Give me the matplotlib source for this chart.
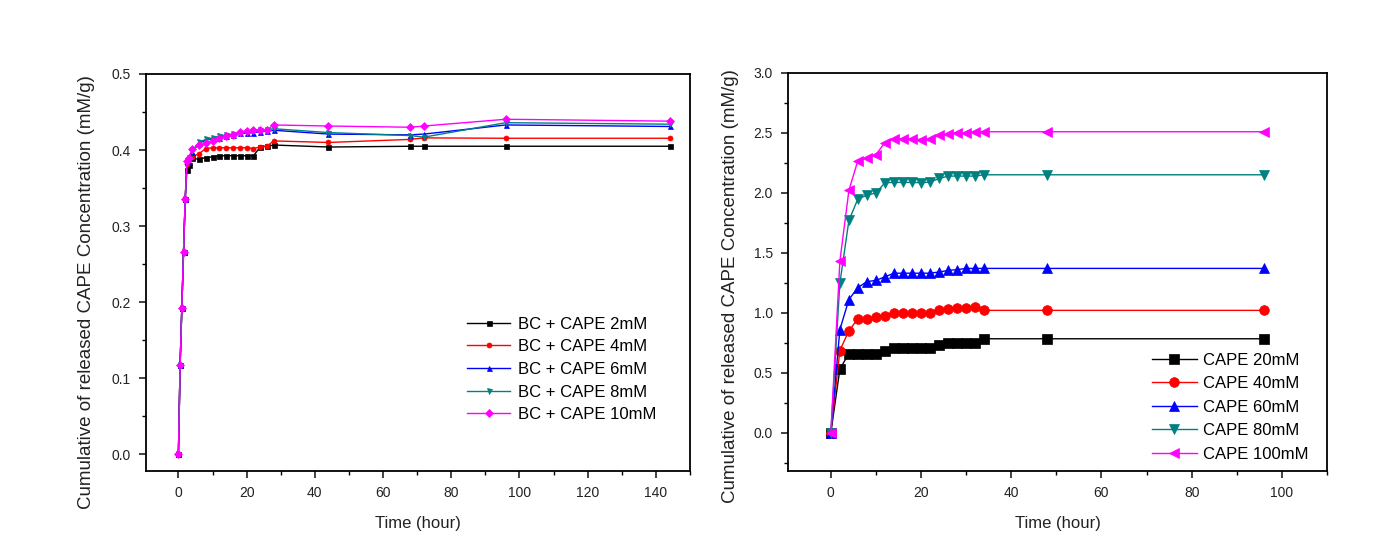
import matplotlib
matplotlib.use("Agg")
import matplotlib.pyplot as plt
from matplotlib.ticker import MultipleLocator, FormatStrFormatter

plt.rcParams['font.family'] = ['Liberation Sans', 'DejaVu Sans']

# ---------------- Left panel data ----------------
t_left = [0, 0.5, 1, 1.5, 2, 2.5, 3, 4, 6, 8, 10, 12, 14, 16, 18, 20, 22, 24, 26, 28, 44, 68, 72, 96, 144]
bc_2mM = [0, 0.117, 0.192, 0.266, 0.336, 0.374, 0.381, 0.389, 0.388, 0.390, 0.391, 0.3925, 0.3925, 0.3925,
          0.3925, 0.3925, 0.3925, 0.404, 0.405, 0.4066, 0.404, 0.405, 0.405, 0.405, 0.405]
bc_4mM = [0, 0.117, 0.192, 0.266, 0.336, 0.382, 0.387, 0.391, 0.395, 0.402, 0.403, 0.403, 0.403, 0.403,
          0.403, 0.403, 0.402, 0.404, 0.4055, 0.412, 0.410, 0.414, 0.416, 0.4155, 0.4155]
bc_6mM = [0, 0.117, 0.192, 0.266, 0.336, 0.385, 0.389, 0.397, 0.409, 0.413, 0.415, 0.416, 0.419, 0.420,
          0.422, 0.422, 0.423, 0.424, 0.425, 0.426, 0.421, 0.420, 0.421, 0.433, 0.431]
bc_8mM = [0, 0.117, 0.192, 0.266, 0.336, 0.385, 0.390, 0.399, 0.410, 0.414, 0.416, 0.418, 0.420, 0.421,
          0.423, 0.424, 0.425, 0.426, 0.427, 0.428, 0.423, 0.419, 0.417, 0.436, 0.434]
bc_10mM = [0, 0.117, 0.192, 0.266, 0.336, 0.385, 0.389, 0.401, 0.406, 0.409, 0.412, 0.416, 0.418, 0.420,
           0.424, 0.425, 0.426, 0.426, 0.427, 0.433, 0.4316, 0.430, 0.4316, 0.4405, 0.438]
left_labels = ["BC + CAPE 2mM", "BC + CAPE 4mM", "BC + CAPE 6mM", "BC + CAPE 8mM", "BC + CAPE 10mM"]

# ---------------- Right panel data ----------------
t_right = [0, 2, 4, 6, 8, 10, 12, 14, 16, 18, 20, 22, 24, 26, 28, 30, 32, 34, 48, 96]
cape_20mM = [0, 0.53, 0.66, 0.66, 0.66, 0.66, 0.685, 0.707, 0.71, 0.71, 0.71, 0.71, 0.735, 0.745,
             0.745, 0.745, 0.745, 0.783, 0.783, 0.783]
cape_40mM = [0, 0.685, 0.85, 0.95, 0.95, 0.963, 0.977, 0.997, 0.997, 0.997, 0.997, 0.997, 1.025, 1.03,
             1.04, 1.04, 1.05, 1.02, 1.02, 1.02]
cape_60mM = [0, 0.86, 1.11, 1.21, 1.26, 1.27, 1.30, 1.33, 1.33, 1.33, 1.33, 1.33, 1.34, 1.353,
             1.36, 1.37, 1.37, 1.37, 1.37, 1.37]
cape_80mM = [0, 1.247, 1.77, 1.95, 1.98, 2.0, 2.085, 2.087, 2.087, 2.087, 2.085, 2.09, 2.12, 2.14,
             2.14, 2.14, 2.14, 2.151, 2.151, 2.151]
cape_100mM = [0, 1.43, 2.02, 2.27, 2.29, 2.32, 2.42, 2.45, 2.45, 2.45, 2.445, 2.45, 2.48, 2.49,
              2.50, 2.50, 2.51, 2.51, 2.51, 2.51]
right_labels = ["CAPE 20mM", "CAPE 40mM", "CAPE 60mM", "CAPE 80mM", "CAPE 100mM"]

colors = ["#000000", "#FF0000", "#0000FF", "#008080", "#FF00FF"]
left_markers = ["s", "o", "^", "v", "D"]
right_markers = ["s", "o", "^", "v", "<"]

W, H = 1385, 557
fig = plt.figure(figsize=(W / 100, H / 100), dpi=100)


def ax_rect(x0, x1, ytop, ybot):
    return [x0 / W, 1 - ybot / H, (x1 - x0) / W, (ybot - ytop) / H]


axL = fig.add_axes(ax_rect(146, 690, 74, 471))
axR = fig.add_axes(ax_rect(788, 1327, 73, 471))

ylabel = "Cumulative of released CAPE Concentration (mM/g)"

for ser, lab, c, m in zip([bc_2mM, bc_4mM, bc_6mM, bc_8mM, bc_10mM], left_labels, colors, left_markers):
    axL.plot(t_left, ser, color=c, marker=m, markersize=3.6, linewidth=1.0, label=lab,
             markeredgewidth=0.5)

for ser, lab, c, m in zip([cape_20mM, cape_40mM, cape_60mM, cape_80mM, cape_100mM], right_labels, colors,
                          right_markers):
    axR.plot(t_right, ser, color=c, marker=m, markersize=7, linewidth=1.0, label=lab,
             markeredgewidth=0.5)

axL.set_xlim(-9.5, 150)
axL.set_ylim(-0.022, 0.5)
axL.xaxis.set_major_locator(MultipleLocator(20))
axL.xaxis.set_minor_locator(MultipleLocator(10))
axL.yaxis.set_major_locator(MultipleLocator(0.1))
axL.yaxis.set_minor_locator(MultipleLocator(0.05))

axR.set_xlim(-9.5, 110)
axR.set_ylim(-0.32, 3.0)
axR.xaxis.set_major_locator(MultipleLocator(20))
axR.xaxis.set_minor_locator(MultipleLocator(10))
axR.yaxis.set_major_locator(MultipleLocator(0.5))
axR.yaxis.set_minor_locator(MultipleLocator(0.25))

for ax in (axL, axR):
    for s in ax.spines.values():
        s.set_linewidth(1.3)
    ax.tick_params(which='major', direction='out', length=5, width=1.2, labelsize=10, colors='#222222',
                   pad=6)
    ax.tick_params(which='minor', direction='out', length=3, width=1.0)
    ax.set_xlabel("Time (hour)", fontsize=12, labelpad=11, color='#222222')
    ax.set_ylabel(ylabel, fontsize=13.5, color='#222222')
    ax.yaxis.set_major_formatter(FormatStrFormatter('%.1f'))

axL.yaxis.set_label_coords(-0.093, 0.45)
axR.yaxis.set_label_coords(-0.09, 0.465)

axL.legend(loc='upper left', bbox_to_anchor=(0.59, 0.389), frameon=False, fontsize=12,
           handlelength=2.6, handletextpad=0.45, labelspacing=0.46, borderpad=0, borderaxespad=0)
axR.legend(loc='upper left', bbox_to_anchor=(0.675, 0.297), frameon=False, fontsize=12,
           handlelength=2.7, handletextpad=0.4, labelspacing=0.51, borderpad=0, borderaxespad=0)

fig.savefig("out.png", dpi=100)
